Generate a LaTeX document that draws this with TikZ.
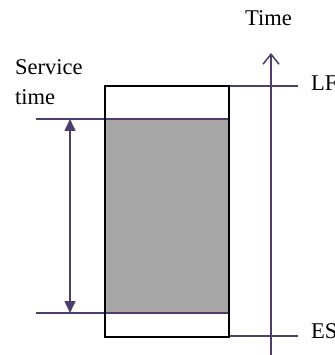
\documentclass[tikz,border=0pt]{standalone}
\usepackage{fontspec}
\setmainfont{Liberation Serif}
\usetikzlibrary{arrows.meta}
\definecolor{plum}{RGB}{78,62,108}
\definecolor{boxgray}{RGB}{166,166,166}
\tikzset{
  purpline/.style={draw=plum, line width=1.5pt},
  boxline/.style={draw=black, line width=1.6pt},
  lbl/.style={inner sep=0pt, anchor=base west, font=\fontsize{22.5}{26}\selectfont}
}
\begin{document}
\begin{tikzpicture}[x=1pt,y=-1pt]
\useasboundingbox (0,0) rectangle (334,355);
% coordinates
\coordinate (tl) at (105,86);
\coordinate (br) at (229,337);
\coordinate (gtl) at (105,119);
\coordinate (gbr) at (229,313);
\coordinate (l1s) at (36,119);
\coordinate (l1e) at (229,119);
\coordinate (l2s) at (36,313);
\coordinate (l2e) at (229,313);
\coordinate (lfs) at (229,86);
\coordinate (lfe) at (298,86);
\coordinate (ess) at (229,336);
\coordinate (ese) at (298,336);
\coordinate (axb) at (271,355);
\coordinate (axt) at (271,53);
\coordinate (da) at (70,119);
\coordinate (db) at (70,313);
% shaded service block
\fill[boxgray] (gtl) rectangle (gbr);
% horizontal lines
\draw[purpline] (l1s) -- (l1e);
\draw[purpline] (l2s) -- (l2e);
\draw[purpline] (lfs) -- (lfe);
\draw[purpline] (ess) -- (ese);
% outer box
\draw[boxline] (tl) rectangle (br);
% time axis
\draw[purpline, -{Straight Barb[length=10pt,width=16pt,line width=1.5pt]}] (axb) -- (axt);
% service time double arrow
\draw[purpline, {Triangle[length=12pt,width=11pt]}-{Triangle[length=12pt,width=11pt]}] (da) -- (db);
% labels
\node[lbl] (ttime) at (245,26) {Time};
\node[lbl] (tserv) at (15,75) {Service};
\node[lbl] (tserv2) at (15,105) {time};
\node[lbl] (tlf) at (311,91) {LF};
\node[lbl] (tes) at (311,338) {ES};
\end{tikzpicture}
\end{document}
